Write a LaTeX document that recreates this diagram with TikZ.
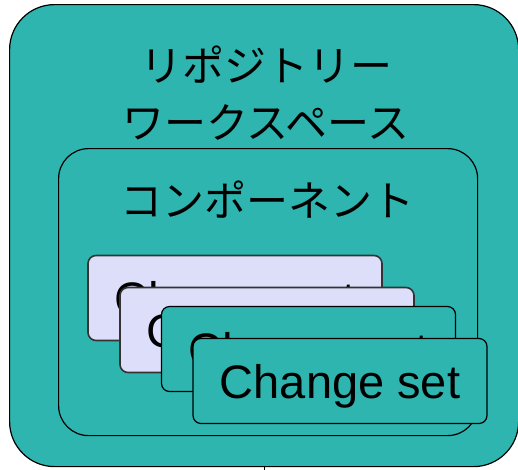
\documentclass[tikz,border=0pt]{standalone}
\usepackage{fontspec}
\setmainfont{Liberation Sans}
\newfontfamily\jpfont{Noto Sans CJK JP}
\definecolor{tealbox}{RGB}{46,181,176}
\definecolor{lavcard}{RGB}{220,222,250}

\tikzset{
  box/.style={draw, fill=tealbox, line width=1.2pt, rounded corners=#1, inner sep=0pt, anchor=north west},
  card/.style={draw, fill=#1, line width=1.2pt, rounded corners=8pt, inner sep=0pt,
    minimum width=294pt, minimum height=85pt, text height=34pt, text depth=0pt,
    font=\fontsize{47}{50}\selectfont},
  jplabel/.style={font=\jpfont\fontsize{42}{57}\selectfont, align=center}
}

\begin{document}
\begin{tikzpicture}[x=1pt,y=-1pt]
	\clip (0,0) rectangle (518,469);
	% outer box
	\node[box=45pt, minimum width=509pt, minimum height=462pt] (repo) at (9,4) {};
	\draw[line width=1.2pt] (repo.south) -- ++(0,6);
	\node[jplabel] (repotitle) at (266,93) {リポジトリー\\ワークスペース};

	% component
	\node[box=30pt, minimum width=419pt, minimum height=287pt] (comp) at (58,148) {};
	\node[jplabel] (comptitle) at (267,200) {コンポーネント};

	% change sets
	\node[card=lavcard, draw=black!80, line width=1.6pt] (cs1) at (235,298) {Change set};
	\node[card=lavcard, draw=black!80, line width=1.6pt] (cs2) at (267,330) {Change set};
	\node[card=tealbox] (cs3) at (308.5,349) {Change set};
	\node[card=tealbox] (cs4) at (340,381) {Change set};
\end{tikzpicture}
\end{document}
